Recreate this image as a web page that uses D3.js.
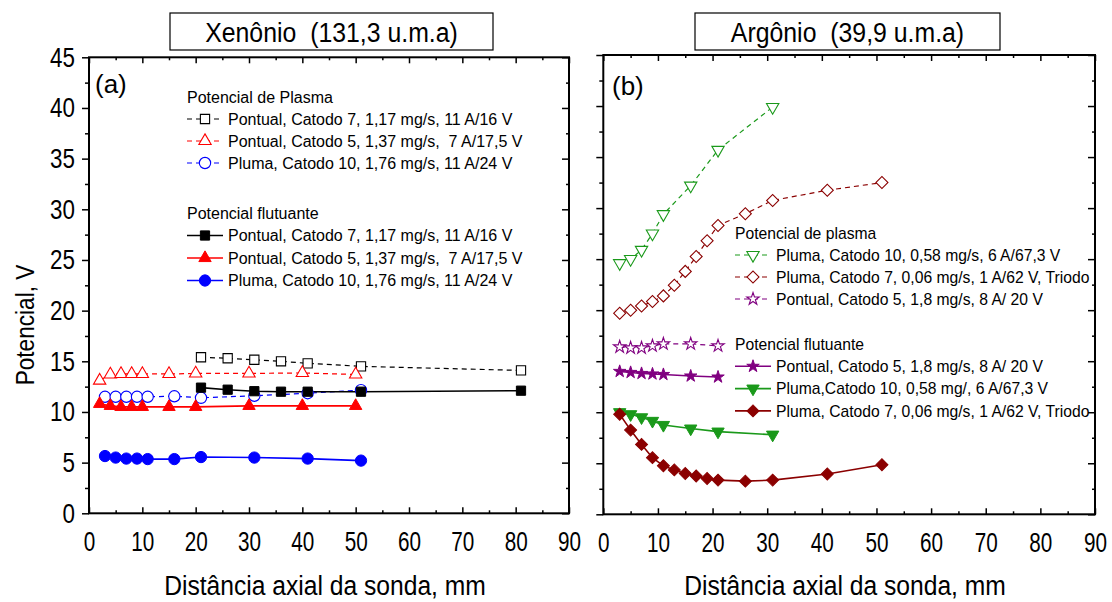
<!DOCTYPE html>
<html>
<head>
<meta charset="utf-8">
<script src="https://cdn.jsdelivr.net/npm/d3@7"></script>
<style>
  html,body{margin:0;padding:0;background:#fff;}
  svg{display:block;}
  text{font-family:"Liberation Sans",Arial,sans-serif;fill:#000;white-space:pre;}
</style>
</head>
<body>
<svg id="chart" width="1112" height="602"></svg>
<script>
// ---------------- DATA ----------------
const xTicks = [0,10,20,30,40,50,60,70,80,90];
const xMinorTicks = [5,15,25,35,45,55,65,75,85];
const yTicks = [0,5,10,15,20,25,30,35,40,45];
const yMinorTicks = [2.5,7.5,12.5,17.5,22.5,27.5,32.5,37.5,42.5];

// Panel (a) Xenônio
const titleA = "Xenônio  (131,3 u.m.a)";
const xeX_c7 = [21,26,31,36,41,51,81];
const xePlasma_c7 = [15.4,15.3,15.15,15.0,14.8,14.5,14.1];
const xeFloat_c7 = [12.4,12.2,12.05,12.0,12.0,12.0,12.1];
const xeX_c5 = [2,4,6,8,10,15,20,30,40,50];
const xePlasma_c5 = [13.1,13.7,13.75,13.75,13.75,13.75,13.8,13.8,13.85,13.7];
const xeFloat_c5 = [10.8,10.6,10.5,10.5,10.5,10.5,10.5,10.6,10.6,10.6];
const xeX_c10 = [3,5,7,9,11,16,21,31,41,51];
const xePlasma_c10 = [11.5,11.5,11.5,11.5,11.5,11.55,11.4,11.6,11.85,12.15];
const xeFloat_c10 = [5.65,5.5,5.4,5.4,5.35,5.35,5.55,5.5,5.4,5.2];
const legendA_headers = ["Potencial de Plasma","Potencial flutuante"];
const legendA_labels = [
  "Pontual, Catodo 7, 1,17 mg/s, 11 A/16 V",
  "Pontual, Catodo 5, 1,37 mg/s,  7 A/17,5 V",
  "Pluma, Catodo 10, 1,76 mg/s, 11 A/24 V"
];

// Panel (b) Argônio
const titleB = "Argônio  (39,9 u.m.a)";
const arX_c10 = [3,5,7,9,11,16,21,31];
const arPlasma_c10 = [24.6,25.0,25.9,27.5,29.4,32.2,35.7,39.9];
const arFloat_c10 = [10.0,9.8,9.5,9.15,8.75,8.4,8.1,7.8];
const arX_c7 = [3,5,7,9,11,13,15,17,19,21,26,31,41,51];
const arPlasma_c7 = [19.7,20.0,20.4,20.85,21.4,22.45,23.8,25.25,26.8,28.3,29.45,30.75,31.75,32.5];
const arFloat_c7 = [9.8,8.25,6.85,5.55,4.75,4.35,4.0,3.75,3.5,3.35,3.25,3.35,3.95,4.85];
const arX_c5 = [3,5,7,9,11,16,21];
const arPlasma_c5 = [16.4,16.3,16.3,16.5,16.7,16.7,16.5];
const arFloat_c5 = [14.0,13.9,13.8,13.75,13.7,13.55,13.45];
const legendB_headers = ["Potencial de plasma","Potencial flutuante"];
const legendB_plasmaLabels = [
  "Pluma, Catodo 10, 0,58 mg/s, 6 A/67,3 V",
  "Pluma, Catodo 7, 0,06 mg/s, 1 A/62 V, Triodo",
  "Pontual, Catodo 5, 1,8 mg/s, 8 A/ 20 V"
];
const legendB_floatLabels = [
  "Pontual, Catodo 5, 1,8 mg/s, 8 A/ 20 V",
  "Pluma,Catodo 10, 0,58 mg/, 6 A/67,3 V",
  "Pluma, Catodo 7, 0,06 mg/s, 1 A/62 V, Triodo"
];
const yAxisLabel = "Potencial, V";
const xAxisLabel = "Distância axial da sonda, mm";

// ---------------- STYLE ----------------
const C = {black:"#000000", red:"#ff0000", blue:"#0000ff", green:"#1a991a", dred:"#8b0000", purple:"#800080"};
const svg = d3.select("#chart");

const shapes = {
  square:   {type:d3.symbolSquare,   rot:0,   size:85},
  circle:   {type:d3.symbolCircle,   rot:0,   size:100},
  triangle: {type:d3.symbolTriangle, rot:0,   size:66},
  triDown:  {type:d3.symbolTriangle, rot:180, size:66},
  diamond:  {type:d3.symbolSquare,   rot:45,  size:72},
  star:     {type:d3.symbolStar,     rot:0,   size:48}
};

function marker(g, shape, x, y, color, filled) {
  const s = shapes[shape];
  g.append("path")
    .attr("d", d3.symbol().type(s.type).size(s.size)())
    .attr("transform", `translate(${x},${y}) rotate(${s.rot})`)
    .attr("fill", filled ? color : "#fff")
    .attr("stroke", color)
    .attr("stroke-width", filled ? 1 : 1.1);
}

function drawPanel(p) {
  const x = d3.scaleLinear().domain([0,90]).range([p.x0,p.x1]);
  const y = d3.scaleLinear().domain([0,45]).range([p.yb,p.yt]);
  const g = svg.append("g");

  // axes
  const bottom = g.append("g").attr("transform",`translate(0,${p.yb})`)
    .call(d3.axisBottom(x).tickValues(xTicks).tickSize(-6).tickPadding(18).tickFormat(d3.format("d")));
  g.append("g").attr("transform",`translate(0,${p.yb})`)
    .call(d3.axisBottom(x).tickValues(xMinorTicks).tickSize(-3).tickFormat(""));
  g.append("g").attr("transform",`translate(0,${p.yt})`)
    .call(d3.axisTop(x).tickValues(xTicks).tickSize(-6).tickFormat(""));
  g.append("g").attr("transform",`translate(0,${p.yt})`)
    .call(d3.axisTop(x).tickValues(xMinorTicks).tickSize(-3).tickFormat(""));
  const left = g.append("g").attr("transform",`translate(${p.x0},0)`)
    .call(d3.axisLeft(y).tickValues(yTicks).tickSize(7).tickPadding(6).tickFormat(p.yLabels ? d3.format("d") : ""));
  g.append("g").attr("transform",`translate(${p.x0},0)`)
    .call(d3.axisLeft(y).tickValues(yMinorTicks).tickSize(4).tickFormat(""));
  g.append("g").attr("transform",`translate(${p.x1},0)`)
    .call(d3.axisRight(y).tickValues(yTicks).tickSize(-7).tickFormat(""));
  g.append("g").attr("transform",`translate(${p.x1},0)`)
    .call(d3.axisRight(y).tickValues(yMinorTicks).tickSize(-3).tickFormat(""));
  g.selectAll(".domain").remove();
  g.selectAll(".tick line").attr("stroke","#000").attr("stroke-width",1.5);
  bottom.selectAll("text").attr("font-size",28).attr("font-family","Liberation Sans, Arial, sans-serif")
    .attr("transform","scale(0.74,1)");
  left.selectAll("text").attr("font-size",28).attr("font-family","Liberation Sans, Arial, sans-serif")
    .attr("x", -14/0.8).attr("transform","scale(0.8,1)");

  // frame
  g.append("rect").attr("x",p.x0).attr("y",p.yt).attr("width",p.x1-p.x0).attr("height",p.yb-p.yt)
    .attr("fill","none").attr("stroke","#000").attr("stroke-width",2);

  // series
  const line = d3.line().x(d=>x(d[0])).y(d=>y(d[1]));
  p.series.forEach(s => {
    const pts = s.x.map((v,i)=>[v,s.y[i]]);
    g.append("path").attr("d",line(pts)).attr("fill","none").attr("stroke",s.color)
      .attr("stroke-width", s.dashed ? 1.2 : 1.6)
      .attr("stroke-dasharray", s.dashed ? "5,4" : null);
  });
  p.series.forEach(s => {
    s.x.forEach((v,i)=> marker(g, s.shape, x(v), y(s.y[i]), s.color, !s.dashed));
  });

  // panel letter
  g.append("text").attr("x",p.letterX).attr("y",p.letterY).attr("font-size",26).text(p.letter);

  // title box
  g.append("rect").attr("x",p.box[0]).attr("y",13).attr("width",p.box[1]-p.box[0]).attr("height",37)
    .attr("fill","#fff").attr("stroke","#000").attr("stroke-width",1.2);
  g.append("text").attr("text-anchor","middle").attr("font-size",27)
    .attr("transform",`translate(${(p.box[0]+p.box[1])/2},42) scale(0.92,1)`).text(p.title);

  // x axis title
  g.append("text").attr("text-anchor","middle").attr("font-size",28)
    .attr("transform",`translate(${p.xLabelX},${p.xLabelY}) scale(0.88,1)`).text(xAxisLabel);

  // legend
  p.legend.forEach(L => {
    g.append("text").attr("x",L.x).attr("y",L.y+5.7).attr("font-size",L.fs).text(L.header);
    L.items.forEach((it,i) => {
      const cy = L.y + (i+1)*L.dy;
      const s = it.s;
      g.append("line").attr("x1",L.x).attr("x2",L.x+36).attr("y1",cy).attr("y2",cy)
        .attr("stroke",s.color).attr("stroke-width", s.dashed ? 1.2 : 1.6)
        .attr("stroke-dasharray", s.dashed ? "5,4" : null);
      marker(g, s.shape, L.x+18, cy, s.color, !s.dashed);
      g.append("text").attr("x",L.x+41).attr("y",cy+5.7).attr("font-size",L.fs).text(it.label);
    });
  });
}

// Panel (a)
const sA = {
  p7:  {x:xeX_c7,  y:xePlasma_c7,  color:C.black, shape:"square",   dashed:true},
  p5:  {x:xeX_c5,  y:xePlasma_c5,  color:C.red,   shape:"triangle", dashed:true},
  p10: {x:xeX_c10, y:xePlasma_c10, color:C.blue,  shape:"circle",   dashed:true},
  f7:  {x:xeX_c7,  y:xeFloat_c7,   color:C.black, shape:"square",   dashed:false},
  f5:  {x:xeX_c5,  y:xeFloat_c5,   color:C.red,   shape:"triangle", dashed:false},
  f10: {x:xeX_c10, y:xeFloat_c10,  color:C.blue,  shape:"circle",   dashed:false}
};
drawPanel({
  x0:89, x1:569, yb:513.3, yt:57.3, yLabels:true,
  series:[sA.p7,sA.p5,sA.p10,sA.f7,sA.f5,sA.f10],
  letter:"(a)", letterX:95, letterY:93,
  box:[170,493], title:titleA,
  xLabelX:325, xLabelY:595,
  legend:[
    {x:187, y:97, dy:22, fs:16, header:legendA_headers[0],
     items:[{s:sA.p7,label:legendA_labels[0]},{s:sA.p5,label:legendA_labels[1]},{s:sA.p10,label:legendA_labels[2]}]},
    {x:187, y:213, dy:22.5, fs:16, header:legendA_headers[1],
     items:[{s:sA.f7,label:legendA_labels[0]},{s:sA.f5,label:legendA_labels[1]},{s:sA.f10,label:legendA_labels[2]}]}
  ]
});

// Panel (b)
const sB = {
  p10: {x:arX_c10, y:arPlasma_c10, color:C.green,  shape:"triDown", dashed:true},
  p7:  {x:arX_c7,  y:arPlasma_c7,  color:C.dred,   shape:"diamond", dashed:true},
  p5:  {x:arX_c5,  y:arPlasma_c5,  color:C.purple, shape:"star",    dashed:true},
  f5:  {x:arX_c5,  y:arFloat_c5,   color:C.purple, shape:"star",    dashed:false},
  f10: {x:arX_c10, y:arFloat_c10,  color:C.green,  shape:"triDown", dashed:false},
  f7:  {x:arX_c7,  y:arFloat_c7,   color:C.dred,   shape:"diamond", dashed:false}
};
drawPanel({
  x0:603.3, x1:1095, yb:514.3, yt:55, yLabels:false,
  series:[sB.p10,sB.p7,sB.p5,sB.f5,sB.f10,sB.f7],
  letter:"(b)", letterX:612, letterY:95,
  box:[695,1000], title:titleB,
  xLabelX:845, xLabelY:595,
  legend:[
    {x:735, y:233, dy:22, fs:15.7, header:legendB_headers[0],
     items:[{s:sB.p10,label:legendB_plasmaLabels[0]},{s:sB.p7,label:legendB_plasmaLabels[1]},{s:sB.p5,label:legendB_plasmaLabels[2]}]},
    {x:735, y:344, dy:22.3, fs:15.7, header:legendB_headers[1],
     items:[{s:sB.f5,label:legendB_floatLabels[0]},{s:sB.f10,label:legendB_floatLabels[1]},{s:sB.f7,label:legendB_floatLabels[2]}]}
  ]
});

// y axis title
svg.append("text").attr("text-anchor","middle").attr("font-size",26)
  .attr("transform","translate(34,325) rotate(-90) scale(0.87,1)").text(yAxisLabel);
</script>
</body>
</html>
